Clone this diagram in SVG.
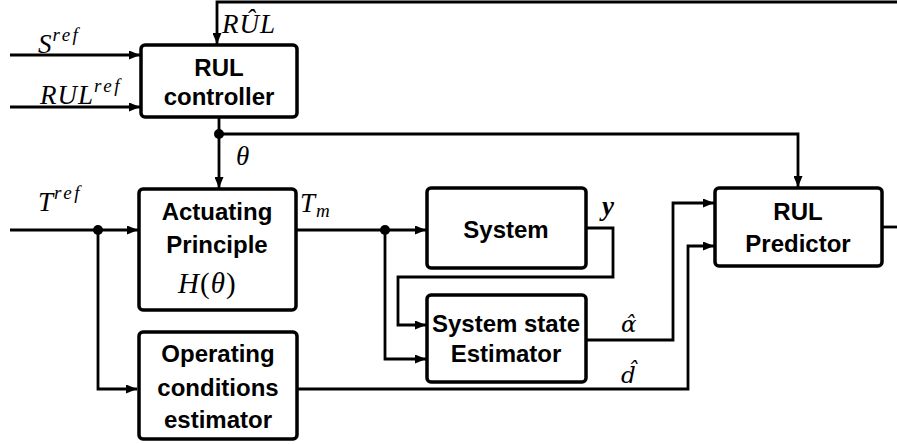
<svg xmlns="http://www.w3.org/2000/svg" width="897" height="444" viewBox="0 0 897 444">
<defs>
<marker id="arr" markerUnits="userSpaceOnUse" markerWidth="11" markerHeight="9" refX="11" refY="4.5" orient="auto">
<path d="M0,0 L11,4.5 L0,9 z" fill="#000"/>
</marker>
<style>
.box{fill:#fff;stroke:#000;stroke-width:3.5}
.lbl{font-family:"Liberation Sans",Arial,sans-serif;font-weight:bold;font-size:24px;text-anchor:middle;fill:#000}
.ln{fill:none;stroke:#000;stroke-width:2.8}
.m{font-family:"Liberation Serif","DejaVu Serif",serif;font-style:italic;font-size:27px;fill:#000;letter-spacing:1px}
.sup{font-size:19px;letter-spacing:2.5px}
.up{font-style:normal}
.dv{font-family:"DejaVu Serif",serif;font-style:italic;font-size:23px;fill:#000}
</style>
</defs>
<rect width="897" height="444" fill="#fff"/>
<g id="connectors">
<path class="ln" d="M900 2 H217 V44" marker-end="url(#arr)"/>
<path class="ln" d="M10 55 H140" marker-end="url(#arr)"/>
<path class="ln" d="M10 107 H140" marker-end="url(#arr)"/>
<path class="ln" d="M219 117 V188" marker-end="url(#arr)"/>
<path class="ln" d="M219 134 H798 V187" marker-end="url(#arr)"/>
<path class="ln" d="M10 230 H138" marker-end="url(#arr)"/>
<path class="ln" d="M98 230 V389 H137" marker-end="url(#arr)"/>
<path class="ln" d="M297 230 H426" marker-end="url(#arr)"/>
<path class="ln" d="M586 228 H613 V277 H398 V325 H426" marker-end="url(#arr)"/>
<path class="ln" d="M385 230 V359 H426" marker-end="url(#arr)"/>
<path class="ln" d="M586 340 H673 V203 H714" marker-end="url(#arr)"/>
<path class="ln" d="M298 389 H688 V246 H714" marker-end="url(#arr)"/>
<path class="ln" d="M882 227 H900"/>
<circle cx="219" cy="134" r="5"/>
<circle cx="98" cy="230" r="5"/>
<circle cx="385" cy="230" r="5"/>
</g>
<g id="labels">
<text class="m" x="38" y="53">S<tspan class="sup" dy="-12">ref</tspan></text>
<text class="m" x="40" y="104">RUL<tspan class="sup" dy="-12">ref</tspan></text>
<text class="m" x="222" y="33">RÛL</text>
<text class="m" x="236" y="165">θ</text>
<text class="m" x="38" y="211">T<tspan class="sup" dy="-12">ref</tspan></text>
<text class="m" x="300" y="212">T<tspan class="sup" dy="5">m</tspan></text>
<text class="m" x="602" y="215" font-weight="bold">y</text>
<text class="dv" x="621" y="332">α̂</text>
<text class="dv" x="621" y="383">d̂</text>
</g>
<g id="rul-controller">
<rect class="box" x="141" y="45" width="156" height="72" rx="4"/>
<text class="lbl" x="219" y="76">RUL</text>
<text class="lbl" x="219" y="105">controller</text>
</g>
<g id="actuating-principle">
<rect class="box" x="139" y="189" width="157" height="121" rx="4"/>
<text class="lbl" x="217" y="220">Actuating</text>
<text class="lbl" x="217" y="253">Principle</text>
<text class="m" x="178" y="293" style="font-size:29px">H<tspan class="up">(</tspan>θ<tspan class="up">)</tspan></text>
</g>
<g id="operating-conditions-estimator">
<rect class="box" x="139" y="332" width="158" height="107" rx="4"/>
<text class="lbl" x="218" y="362">Operating</text>
<text class="lbl" x="218" y="396">conditions</text>
<text class="lbl" x="218" y="428">estimator</text>
</g>
<g id="system">
<rect class="box" x="427" y="188" width="159" height="80" rx="4"/>
<text class="lbl" x="506" y="238">System</text>
</g>
<g id="system-state-estimator">
<rect class="box" x="427" y="295" width="159" height="87" rx="4"/>
<text class="lbl" x="506" y="332">System state</text>
<text class="lbl" x="506" y="362">Estimator</text>
</g>
<g id="rul-predictor">
<rect class="box" x="715" y="188" width="167" height="78" rx="4"/>
<text class="lbl" x="798" y="220">RUL</text>
<text class="lbl" x="798" y="252">Predictor</text>
</g>
</svg>
